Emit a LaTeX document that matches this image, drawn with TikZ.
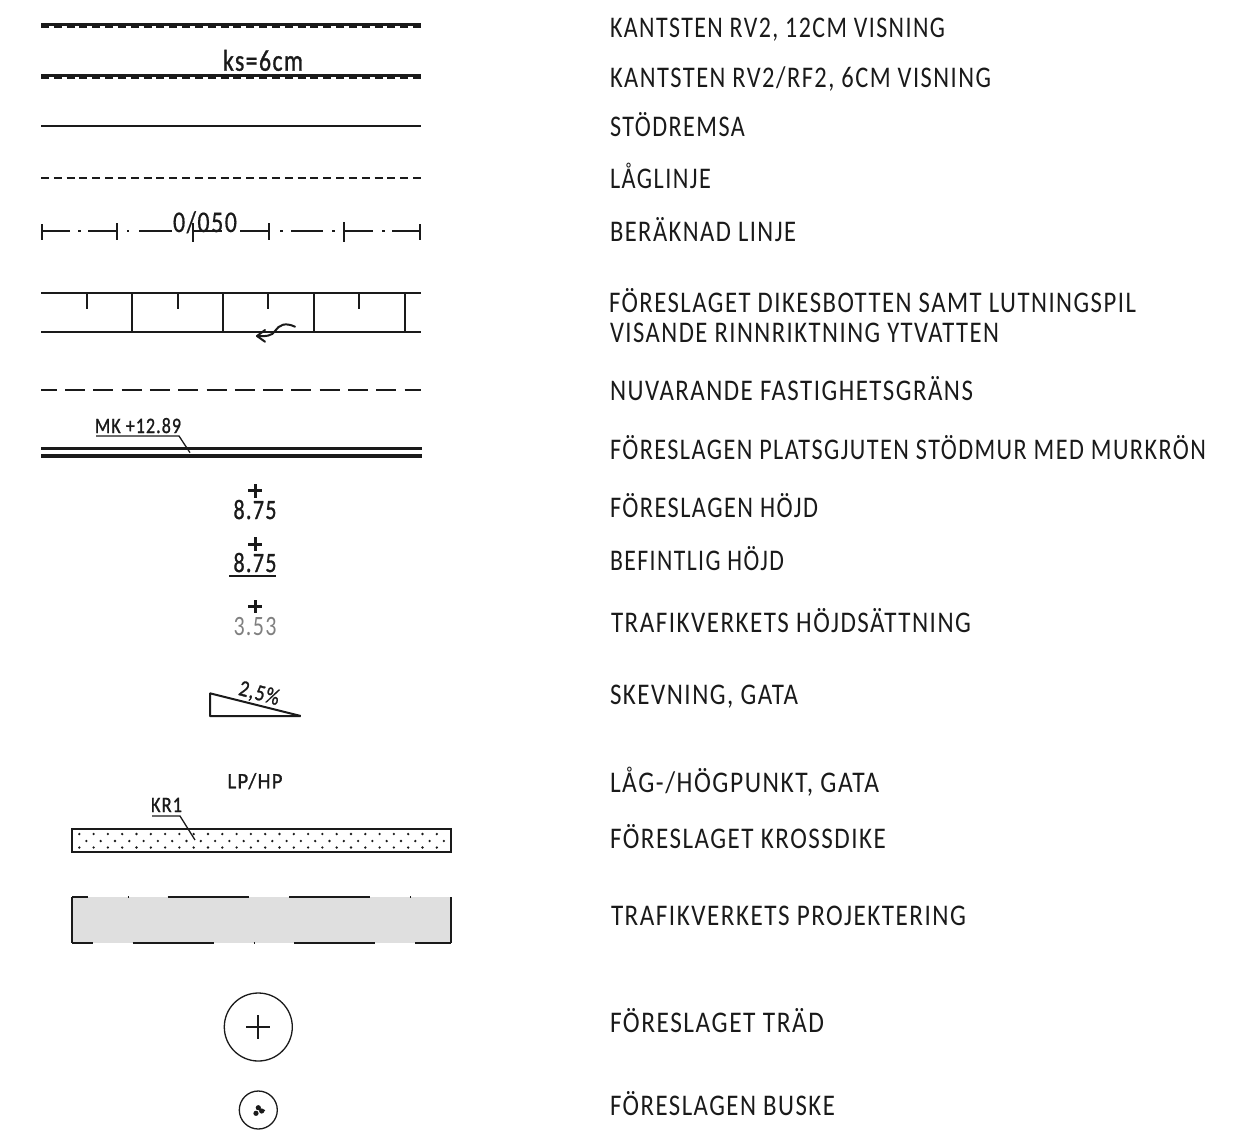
\documentclass[tikz,border=0pt]{standalone}
\usepackage{graphicx}
\usepackage{fontspec}
\setmainfont[LetterSpace=6]{Carlito}
\newsavebox\fitbox
\newlength\fitlen
\newcommand\fitw[3]{\sbox\fitbox{\fontsize{#1}{#1}\selectfont #3}\setlength\fitlen{\wd\fitbox}\pgfmathsetmacro\fitr{(#2-1)/\fitlen}\scalebox{\fitr}[1]{\usebox\fitbox}}
\newcommand\heavier{\addfontfeature{FakeBold=1.2}}
\definecolor{ink}{HTML}{1A1A1A}
\tikzset{
 lab/.style={anchor=base west,inner sep=0pt,outer sep=0pt,text=ink,yshift=1pt},
 sym/.style={anchor=base,inner sep=0pt,outer sep=0pt,text=ink},
 thin line/.style={draw=ink,line width=1.3pt},
 med line/.style={draw=ink,line width=2pt},
 heavy line/.style={draw=ink,line width=3pt},
 wall line/.style={draw=ink,line width=3.2pt},
}
\begin{document}
\begin{tikzpicture}[x=1pt,y=-1pt]
\useasboundingbox (0,0) rectangle (1241,1135);
% labels
\node[lab] (l1) at (610,38) {\fitw{30}{336}{KANTSTEN RV2, 12CM VISNING}};
\node[lab] (l2) at (610,88) {\fitw{30}{382}{KANTSTEN RV2/RF2, 6CM VISNING}};
\node[lab] (l3) at (610,137) {\fitw{30}{136}{STÖDREMSA}};
\node[lab] (l4) at (610,189) {\fitw{30}{102}{LÅGLINJE}};
\node[lab] (l5) at (610,242) {\fitw{30}{187}{BERÄKNAD LINJE}};
\node[lab] (l6) at (609,313) {\fitw{30}{528}{FÖRESLAGET DIKESBOTTEN SAMT LUTNINGSPIL}};
\node[lab] (l7) at (610,343) {\fitw{30}{390}{VISANDE RINNRIKTNING YTVATTEN}};
\node[lab] (l8) at (610,401) {\fitw{30}{364}{NUVARANDE FASTIGHETSGRÄNS}};
\node[lab] (l9) at (610,460) {\fitw{30}{597}{FÖRESLAGEN PLATSGJUTEN STÖDMUR MED MURKRÖN}};
\node[lab] (l10) at (610,518) {\fitw{30}{209}{FÖRESLAGEN HÖJD}};
\node[lab] (l11) at (610,571) {\fitw{30}{175}{BEFINTLIG HÖJD}};
\node[lab] (l12) at (611,633) {\fitw{30}{361}{TRAFIKVERKETS HÖJDSÄTTNING}};
\node[lab] (l13) at (610,705) {\fitw{30}{189}{SKEVNING, GATA}};
\node[lab] (l14) at (610,793) {\fitw{30}{270}{LÅG-/HÖGPUNKT, GATA}};
\node[lab] (l15) at (610,849) {\fitw{30}{277}{FÖRESLAGET KROSSDIKE}};
\node[lab] (l16) at (611,926) {\fitw{30}{356}{TRAFIKVERKETS PROJEKTERING}};
\node[lab] (l17) at (610,1033) {\fitw{30}{215}{FÖRESLAGET TRÄD}};
\node[lab] (l18) at (610,1116) {\fitw{30}{226}{FÖRESLAGEN BUSKE}};
% kerbs
\draw[heavy line] (41,24.5) -- (421,24.5);
\draw[med line,dash pattern=on 8pt off 4.83pt] (41,27) -- (421,27);
\draw[heavy line] (41,75) -- (421,75);
\draw[med line,dash pattern=on 8pt off 4.83pt] (41,78) -- (421,78);
\node[sym] (ks) at (263,70.7) {\fitw{30}{81}{\heavier ks=6cm}};
% support strip, low line
\draw[thin line] (41,126) -- (421,126);
\draw[med line,dash pattern=on 8pt off 4.83pt] (41,178) -- (421,178);
% calculated line
\foreach \a/\b in {42/70,78/81,88/117,127/129,139/172,192/222,231/233,240/268,280/283,291/323,332/335,344/373,382/385,392/420}
  \draw[thin line] (\a,231) -- (\b,231);
\foreach \x/\a/\b in {42/224/240,117/223/240,193/223/242,269/223/240,344/222/242,420/224/240}
  \draw[thin line] (\x,\a) -- (\x,\b);
\node[sym] (st) at (205,232) {\fitw{30}{65}{\addfontfeature{FakeBold=0.5}0/050}};
% ditch
\draw[thin line] (41,293) -- (421,293);
\draw[thin line] (41,332) -- (421,332);
\foreach \x in {87,178,268,359} \draw[thin line] (\x,293) -- (\x,309);
\foreach \x in {132,223,314,405} \draw[thin line] (\x,293) -- (\x,332);
\draw[med line,line cap=round,line join=round] (295,326.7) .. controls (285,322) and (279,325) .. (275,331) .. controls (272,336) and (266,336.5) .. (257,336);
\draw[med line,line cap=round,line join=round] (265,330) -- (257,336) -- (265,341.7);
% property line
\draw[thin line,dash pattern=on 20pt off 8.3pt,dash phase=4.3pt] (41,390) -- (421,390);
% wall
\draw[wall line] (41,448.3) -- (421.5,448.3);
\draw[wall line] (41,456) -- (421.5,456);
\node[sym] (mk) at (138,433) {\fitw{22}{87}{\heavier MK +12.89}};
\draw[thin line] (96,436) -- (179,436) -- (190,452.7);
% heights
\draw[heavy line] (248,490.7) -- (262,490.7) (255,484) -- (255,497.5);
\node[sym] (h1) at (255,519) {\fitw{28}{44}{\heavier 8.75}};
\draw[heavy line] (248,544) -- (262,544) (255,537.3) -- (255,550.7);
\node[sym] (h2) at (255,572) {\fitw{28}{44}{\heavier 8.75}};
\draw[med line] (229,576) -- (276,576);
\draw[heavy line] (248,606.7) -- (262,606.7) (255,600) -- (255,613.4);
\node[sym,text=gray] (h3) at (255,635) {\fitw{28}{44}{3.53}};
% crossfall
\draw[med line,line join=bevel] (300.7,716) -- (210,716) -- (210,693.3) -- cycle;
\node[sym,rotate=-15] (sk) at (257.5,700) {\fitw{23}{42}{\heavier 2,5\%}};
% low/high point
\node[sym] (lp) at (255,788.3) {\fitw{22}{56}{\heavier LP/HP}};
% crushed-stone ditch
\draw[med line] (72.3,829) rectangle (450.7,852.3);
\foreach \i in {0,...,25} {
  \fill[ink] (79.3+14.3*\i,834) circle (1.3pt);
  \fill[ink] (86.4+14.3*\i,841) circle (1.3pt);
  \fill[ink] (79.3+14.3*\i,847.5) circle (1.3pt);
}
\node[sym] (kr) at (166.5,812) {\fitw{22}{32}{\heavier KR1}};
\draw[thin line] (152,816) -- (180,816) -- (195,840);
% Trafikverket area
\fill[fill=black!12.5] (72,897) rectangle (451,943);
\draw[thin line] (72,897) -- (72,943);
\draw[thin line] (451,897) -- (451,943);
\foreach \a/\b in {72/87.7,127.8/129,167.7/249.3,289/370,410.2/411.4}
  \draw[thin line] (\a,897) -- (\b,897);
\foreach \a/\b in {72/93.3,132.7/214,253.8/255,294/375,415/451}
  \draw[thin line] (\a,943) -- (\b,943);
% tree
\draw[thin line] (258.3,1027) circle (34pt);
\draw[thin line] (246.3,1027) -- (270.3,1027) (258,1015) -- (258,1039);
% bush
\draw[thin line] (258.3,1110) circle (19pt);
\fill[ink] (258.3,1107.7) circle (2.6pt) (256,1113.3) circle (2.6pt) (261.7,1111) circle (2.6pt);
\draw[thin line] (261.7,1111) -- (265,1110.3);
\end{tikzpicture}
\end{document}
